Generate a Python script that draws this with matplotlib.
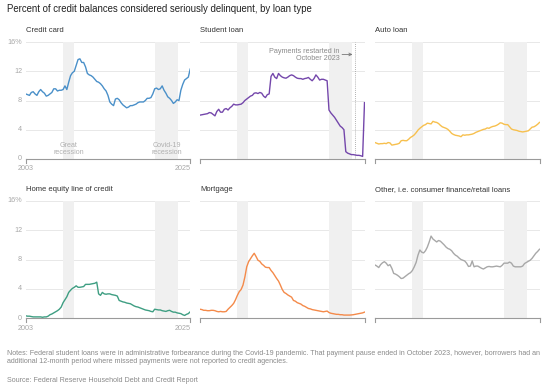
import numpy as np
import matplotlib
matplotlib.use("Agg")
import matplotlib.pyplot as plt
import matplotlib.transforms as mtransforms

plt.rcParams['font.family'] = ['Liberation Sans', 'DejaVu Sans']

# ---- data: quarterly, 2003 Q1 .. 2025 Q1 (percent of balance 90+ days delinquent)
start_year = 2003
end_year = 2025

credit_card = [8.9, 8.8, 8.7, 9.1, 9.2, 8.9, 8.7, 9.2, 9.5, 9.2, 9.0, 8.6, 8.7, 8.9, 9.1, 9.6,
               9.6, 9.3, 9.4, 9.4, 9.5, 10.0, 9.5, 10.5, 11.4, 11.8, 12.0, 12.8, 13.6, 13.7, 13.2, 13.2,
               12.6, 11.7, 11.5, 11.4, 11.2, 10.9, 10.6, 10.5, 10.3, 10.0, 9.6, 9.3, 8.7, 7.8, 7.5, 7.3,
               8.2, 8.3, 8.1, 7.7, 7.4, 7.2, 7.0, 7.1, 7.3, 7.3, 7.4, 7.5, 7.7, 7.8, 7.8, 7.8,
               8.0, 8.3, 8.3, 8.4, 8.9, 9.6, 9.7, 9.5, 9.6, 10.0, 9.4, 9.0, 8.5, 8.3, 8.0, 7.6,
               7.8, 8.1, 8.0, 9.4, 10.2, 10.8, 11.0, 11.2, 12.3]

student_loan = [6.0, 6.05, 6.1, 6.15, 6.2, 6.35, 6.3, 6.1, 5.9, 6.5, 6.8, 6.4, 6.4, 6.8, 6.9, 6.7,
                7.0, 7.2, 7.5, 7.4, 7.4, 7.45, 7.5, 7.7, 8.0, 8.2, 8.4, 8.6, 8.7, 9.0, 9.05, 8.95,
                9.1, 9.0, 8.6, 8.4, 8.8, 8.9, 11.3, 11.7, 11.2, 11.0, 11.7, 11.4, 11.2, 11.1, 11.05, 11.2,
                11.4, 11.5, 11.4, 11.2, 11.05, 11.0, 11.0, 10.9, 11.0, 11.05, 11.15, 10.9, 10.7, 11.0, 11.5, 11.2,
                10.8, 10.9, 10.9, 10.8, 10.7, 6.7, 6.3, 6.0, 5.7, 5.3, 4.9, 4.5, 4.3, 4.0, 1.0, 0.8,
                0.7, 0.6, 0.6, 0.55, 0.5, 0.5, 0.45, 0.35, 7.7]

auto_loan = [2.25, 2.15, 2.05, 2.1, 2.1, 2.15, 2.1, 2.25, 2.2, 1.9, 1.95, 2.0, 2.05, 2.15, 2.5, 2.55,
             2.5, 2.5, 2.7, 2.95, 3.1, 3.3, 3.6, 3.95, 4.2, 4.4, 4.6, 4.7, 4.9, 4.85, 4.8, 5.15,
             5.05, 5.0, 4.85, 4.6, 4.4, 4.3, 4.2, 4.05, 3.8, 3.5, 3.35, 3.25, 3.2, 3.15, 3.05, 3.3,
             3.25, 3.3, 3.3, 3.35, 3.4, 3.5, 3.65, 3.75, 3.85, 3.95, 4.05, 4.1, 4.25, 4.2, 4.35, 4.45,
             4.5, 4.6, 4.75, 4.95, 4.9, 4.75, 4.7, 4.7, 4.4, 4.1, 4.0, 3.95, 3.9, 3.8, 3.75, 3.7,
             3.75, 3.8, 3.85, 4.1, 4.35, 4.4, 4.55, 4.75, 5.0]

heloc = [0.3, 0.25, 0.25, 0.2, 0.15, 0.15, 0.15, 0.15, 0.15, 0.1, 0.15, 0.15, 0.25, 0.45, 0.55, 0.7,
         0.85, 1.0, 1.2, 1.5, 2.1, 2.5, 2.9, 3.5, 3.8, 4.05, 4.2, 4.4, 4.2, 4.2, 4.25, 4.3,
         4.6, 4.6, 4.6, 4.65, 4.7, 4.75, 4.9, 3.3, 3.1, 3.5, 3.3, 3.25, 3.3, 3.3, 3.2, 3.15,
         3.1, 3.0, 2.4, 2.3, 2.2, 2.15, 2.05, 2.0, 1.95, 1.8, 1.65, 1.55, 1.5, 1.4, 1.3, 1.2,
         1.1, 1.05, 1.0, 0.9, 0.85, 1.2, 1.15, 1.1, 1.1, 1.0, 0.95, 0.9, 1.0, 1.05, 0.9, 0.8,
         0.8, 0.7, 0.65, 0.6, 0.45, 0.35, 0.5, 0.6, 0.85]

mortgage = [1.2, 1.15, 1.05, 1.05, 1.0, 1.0, 1.05, 1.05, 1.0, 0.9, 0.85, 0.9, 0.85, 0.85, 0.9, 1.2,
            1.45, 1.7, 2.0, 2.5, 3.1, 3.6, 3.9, 4.5, 5.6, 7.0, 7.7, 8.1, 8.5, 8.85, 8.4, 7.9,
            7.75, 7.4, 7.2, 6.95, 6.9, 6.9, 6.5, 6.2, 5.8, 5.4, 5.05, 4.5, 3.9, 3.5, 3.35, 3.15,
            3.0, 2.85, 2.4, 2.3, 2.1, 2.0, 1.9, 1.7, 1.6, 1.45, 1.3, 1.25, 1.15, 1.1, 1.05, 1.0,
            0.95, 0.9, 0.85, 0.9, 0.95, 0.75, 0.65, 0.6, 0.55, 0.5, 0.5, 0.45, 0.45, 0.4, 0.4, 0.4,
            0.4, 0.42, 0.45, 0.5, 0.55, 0.6, 0.65, 0.7, 0.8]

other = [7.25, 7.1, 6.9, 7.3, 7.55, 7.7, 7.5, 7.15, 7.3, 6.8, 6.1, 6.0, 5.85, 5.65, 5.4, 5.45,
         5.65, 5.85, 6.05, 6.2, 6.5, 7.0, 7.6, 8.6, 9.3, 9.0, 8.9, 9.2, 9.7, 10.4, 11.2, 10.8,
         10.6, 10.4, 10.6, 10.5, 10.25, 10.0, 9.7, 9.5, 9.4, 9.2, 8.85, 8.6, 8.45, 8.2, 8.0, 7.9,
         7.8, 7.5, 7.05, 7.1, 7.8, 7.0, 7.1, 7.1, 6.95, 6.8, 6.7, 6.85, 7.0, 7.05, 7.0, 7.0,
         7.05, 7.1, 7.05, 7.0, 7.2, 7.5, 7.5, 7.5, 7.65, 7.5, 7.1, 7.0, 7.0, 7.0, 7.0, 7.1,
         7.45, 7.6, 7.75, 7.9, 8.15, 8.5, 8.85, 9.1, 9.4]

panel_titles = ["Credit card", "Student loan", "Auto loan",
                "Home equity line of credit", "Mortgage",
                "Other, i.e. consumer finance/retail loans"]
series = [credit_card, student_loan, auto_loan, heloc, mortgage, other]
colors = ["#4a90c9", "#7447ab", "#f7c04e", "#3e9e82", "#f48a4a", "#a8a8a8"]

recessions = [(2008.0, 2009.45), (2020.3, 2023.35)]
recession_labels = ["Great\nrecession", "Covid-19\nrecession"]
restart_year = 2023.75

y_ticks = [0, 4, 8, 12, 16]
y_ticklabels = ["0", "4", "8", "12", "16%"]

title = "Percent of credit balances considered seriously delinquent, by loan type"
notes = ("Notes: Federal student loans were in administrative forbearance during the Covid-19 pandemic. "
         "That payment pause ended in October 2023, however, borrowers had an\n"
         "additional 12-month period where missed payments were not reported to credit agencies.")
source = "Source: Federal Reserve Household Debt and Credit Report"

# ---- figure
W, H = 550, 390
fig = plt.figure(figsize=(W / 100, H / 100), dpi=100)

col_x = [25.7, 200.0, 375.0]
ax_w = 164.5
row_bottom = [159.0, 318.0]
ax_h = 117.0

grid_c = "#e8e8e8"
base_c = "#9a9a9a"
tick_c = "#a8a8a8"

n = len(credit_card)
years = start_year + np.arange(n) * 0.25

for i, (vals, col, ttl) in enumerate(zip(series, colors, panel_titles)):
    r, c = divmod(i, 3)
    left = col_x[c] / W
    bottom = 1 - row_bottom[r] / H
    ax = fig.add_axes([left, bottom, ax_w / W, ax_h / H])
    ax.set_xlim(start_year, end_year)
    ax.set_ylim(0, 16)
    for s in ax.spines.values():
        s.set_visible(False)
    ax.set_xticks([])
    ax.set_yticks([])
    for yt in y_ticks[1:]:
        ax.axhline(yt, color=grid_c, lw=0.7, zorder=0)
    for (a, b) in recessions:
        ax.axvspan(a, b, color="#f0f0f0", lw=0, zorder=0)
    ax.axhline(0, color=base_c, lw=0.8, zorder=2, clip_on=False)
    # end ticks on baseline
    for xe in (start_year, end_year):
        ax.plot([xe, xe], [0, -0.5], color=base_c, lw=0.8, clip_on=False, zorder=2)
    ax.plot(years, vals, color=col, lw=1.0, zorder=3, solid_joinstyle="round")
    offset = mtransforms.ScaledTranslation(0, 8 / 100, fig.dpi_scale_trans)
    ax.text(0.0, 1.0, ttl, transform=ax.transAxes + offset, fontsize=5.5, color="#333333",
            ha="left", va="bottom")

    if c == 0:
        for yt, lab in zip(y_ticks, y_ticklabels):
            ax.text(start_year, yt, lab, fontsize=5.2, color=tick_c, ha="right", va="center",
                    transform=ax.transData + mtransforms.ScaledTranslation(-3.5 / 100, 0, fig.dpi_scale_trans))
        ydown = mtransforms.ScaledTranslation(0, -10 / 100, fig.dpi_scale_trans)
        ax.text(start_year, 0, str(start_year), fontsize=5.2, color=tick_c, ha="center", va="center",
                transform=ax.transData + ydown)
        ax.text(end_year, 0, str(end_year), fontsize=5.2, color=tick_c, ha="right", va="center",
                transform=ax.transData + ydown)

    if i == 0:
        for (a, b), lab in zip(recessions, recession_labels):
            ax.text((a + b) / 2, 0.35, lab, fontsize=5.1, color="#b0b0b0", ha="center",
                    va="bottom", linespacing=1.05)
    if i == 1:
        ax.axvline(restart_year, color="#999999", lw=0.6, ls=(0, (1, 1.5)), zorder=2)
        ax.text(2021.7, 13.2, "Payments restarted in\nOctober 2023", fontsize=5.2, color="#8a8a8a",
                ha="right", va="bottom", linespacing=1.1)
        ax.annotate("", xy=(restart_year - 0.35, 14.3), xytext=(2022.0, 14.3),
                    arrowprops=dict(arrowstyle="->", color="#777777", lw=0.6,
                                    shrinkA=0, shrinkB=0, mutation_scale=5))

fig.text(7 / W, 1 - 9 / H, title, fontsize=6.9, color="#222222", ha="left", va="center")
fig.text(7 / W, 1 - 357.5 / H, notes, fontsize=5.12, color="#8a8a8a", ha="left", va="center",
         linespacing=1.35)
fig.text(7 / W, 1 - 381 / H, source, fontsize=5.12, color="#8a8a8a", ha="left", va="center")

fig.savefig("out.png", dpi=100, facecolor="white")
